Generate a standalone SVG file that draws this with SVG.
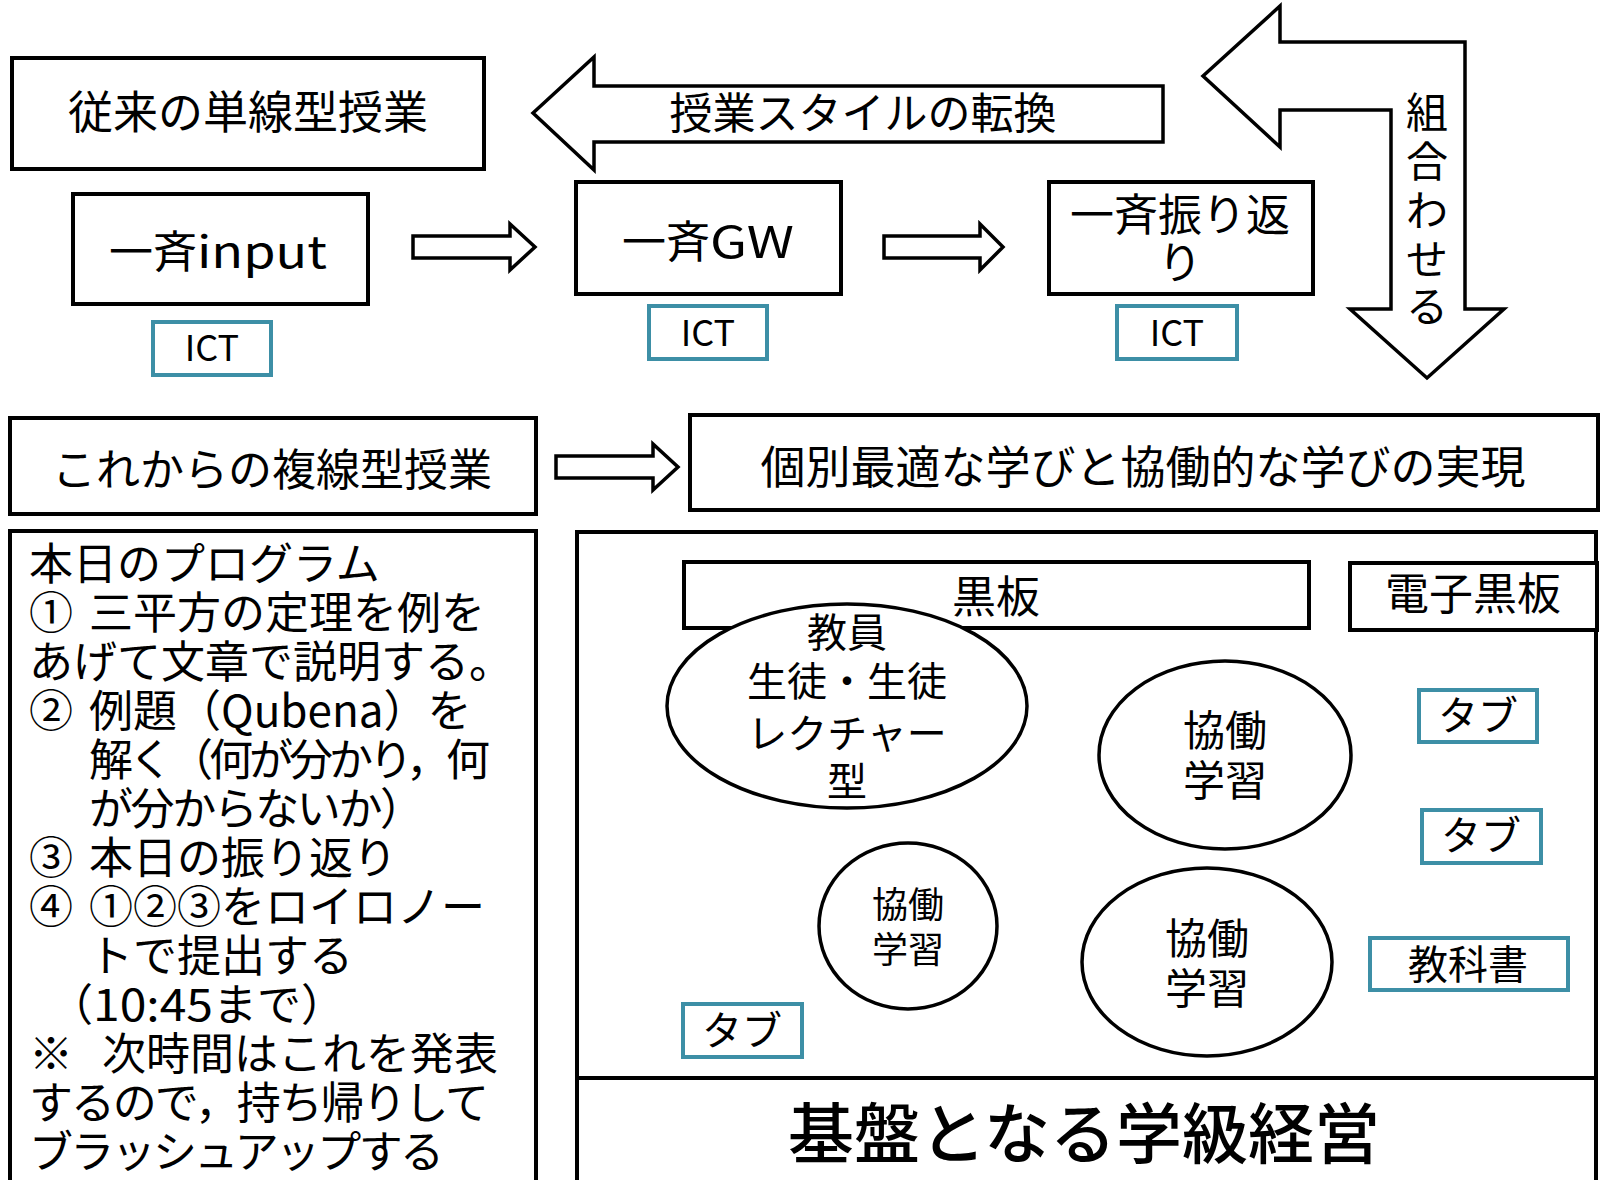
<svg xmlns="http://www.w3.org/2000/svg" width="1600" height="1180" viewBox="0 0 1600 1180">
<style>
text{font-family:"Noto Sans CJK JP","Noto Sans",sans-serif;fill:#000;}
.box{fill:#fff;stroke:#000;stroke-width:4;}
.ict{fill:#fff;stroke:#3D8FA6;stroke-width:4;}
.arr{fill:#fff;stroke:#000;stroke-width:3.5;stroke-linejoin:miter;}
.ell{fill:#fff;stroke:#000;stroke-width:3.5;}
.c{text-anchor:middle;}
.t45{font-size:45px;}
.t44{font-size:44px;}
.t43{font-size:43px;}
.t40{font-size:40px;}
.t36{font-size:36px;}
</style>
<rect x="0" y="0" width="1600" height="1180" fill="#fff"/>

<g id="connectors">
  <path class="arr" d="M533,113 L594,57 L594,86 L1163,86 L1163,142 L594,142 L594,170 Z"/>
  <path class="arr" d="M1203,76 L1280,6 L1280,42 L1465,42 L1465,309 L1504,309 L1427,378 L1350,309 L1391,309 L1391,110 L1280,110 L1280,147 Z"/>
  <path class="arr" d="M413,236 L510,236 L510,224 L535,247 L510,270 L510,258 L413,258 Z"/>
  <path class="arr" d="M884,236 L980,236 L980,224 L1003,247 L980,270 L980,258 L884,258 Z"/>
  <path class="arr" d="M556,456 L653,456 L653,444 L678,467 L653,490 L653,478 L556,478 Z"/>
  <text class="c t43" x="863" y="129">授業スタイルの転換</text>
  <text class="c" font-size="42" x="1427"><tspan x="1427" y="128">組</tspan><tspan x="1427" y="177">合</tspan><tspan x="1427" y="226">わ</tspan><tspan x="1427" y="275">せ</tspan><tspan x="1427" y="322">る</tspan></text>
</g>

<g id="traditional">
  <rect class="box" x="12" y="58" width="472" height="111"/>
  <text class="c t45" x="248" y="129">従来の単線型授業</text>
</g>

<g id="input">
  <rect class="box" x="73" y="194" width="295" height="110"/>
  <text class="t44" x="109" y="268">一斉<tspan textLength="130" lengthAdjust="spacingAndGlyphs">input</tspan></text>
</g>
<g id="ict1">
  <rect class="ict" x="153" y="322" width="118" height="53"/>
  <text class="c t36" x="212" y="361">ICT</text>
</g>

<g id="gw">
  <rect class="box" x="576" y="182" width="265" height="112"/>
  <text class="t44" x="622" y="258">一斉<tspan textLength="84" lengthAdjust="spacingAndGlyphs">GW</tspan></text>
</g>
<g id="ict2">
  <rect class="ict" x="649" y="306" width="118" height="53"/>
  <text class="c t36" x="708" y="346">ICT</text>
</g>

<g id="reflect">
  <rect class="box" x="1049" y="182" width="264" height="112"/>
  <text class="c t44" x="1180" y="231">一斉振り返</text>
  <text class="c t44" x="1180" y="279">り</text>
</g>
<g id="ict3">
  <rect class="ict" x="1117" y="306" width="120" height="53"/>
  <text class="c t36" x="1177" y="346">ICT</text>
</g>

<g id="multi">
  <rect class="box" x="10" y="418" width="526" height="96"/>
  <text class="c t44" x="272" y="486">これからの複線型授業</text>
</g>

<g id="goal">
  <rect class="box" x="690" y="415" width="908" height="95"/>
  <text class="c t45" x="1143" y="484">個別最適な学びと協働的な学びの実現</text>
</g>

<g id="program">
  <rect class="box" x="10" y="531" width="526" height="700"/>
  <g class="t44">
    <text x="29" y="580">本日のプログラム</text>
    <text y="629"><tspan x="29">①</tspan><tspan x="89">三平方の定理を例を</tspan></text>
    <text x="29" y="678">あげて文章で説明する。</text>
    <text y="727"><tspan x="29">②</tspan><tspan x="89">例題（Qubena）を</tspan></text>
    <text x="89" y="776" textLength="401" lengthAdjust="spacing">解く（何が分かり，何</text>
    <text x="89" y="825" textLength="335" lengthAdjust="spacing">が分からないか）</text>
    <text y="874"><tspan x="29">③</tspan><tspan x="89">本日の振り返り</tspan></text>
    <text y="923"><tspan x="29">④</tspan><tspan x="89">①②③をロイロノー</tspan></text>
    <text x="89" y="972">トで提出する</text>
    <text x="49" y="1021">（<tspan textLength="120" lengthAdjust="spacingAndGlyphs">10:45</tspan>まで）</text>
    <text y="1070"><tspan x="29">※</tspan><tspan x="102">次時間はこれを発表</tspan></text>
    <text x="29" y="1119" textLength="460" lengthAdjust="spacing">するので，持ち帰りして</text>
    <text x="29" y="1168" textLength="415" lengthAdjust="spacing">ブラッシュアップする</text>
  </g>
</g>

<g id="classroom">
  <rect class="box" x="577" y="532" width="1019" height="546"/>
</g>

<g id="blackboard">
  <rect class="box" x="684" y="562" width="625" height="66"/>
  <text class="c t44" x="996" y="613">黒板</text>
</g>

<g id="eboard">
  <rect class="box" x="1350" y="563" width="247" height="67"/>
  <text class="c t44" x="1473" y="610">電子黒板</text>
</g>

<g id="lecture">
  <ellipse class="ell" cx="847" cy="706" rx="180" ry="102"/>
  <text class="c t40" x="847" y="647">教員</text>
  <text class="c t40" x="847" y="696">生徒・生徒</text>
  <text class="c t40" x="847" y="748">レクチャー</text>
  <text class="c t40" x="847" y="796">型</text>
</g>

<g id="collab1">
  <ellipse class="ell" cx="1225" cy="755" rx="126" ry="94"/>
  <text class="c" font-size="42" x="1225" y="746">協働</text>
  <text class="c" font-size="42" x="1225" y="796">学習</text>
</g>

<g id="collab2">
  <ellipse class="ell" cx="908" cy="926" rx="89" ry="83"/>
  <text class="c t36" x="908" y="918">協働</text>
  <text class="c t36" x="908" y="963">学習</text>
</g>

<g id="collab3">
  <ellipse class="ell" cx="1207" cy="962" rx="125" ry="94"/>
  <text class="c" font-size="42" x="1207" y="954">協働</text>
  <text class="c" font-size="42" x="1207" y="1004">学習</text>
</g>

<g id="tab1">
  <rect class="ict" x="1419" y="690" width="118" height="52"/>
  <text class="c t40" x="1478" y="730">タブ</text>
</g>
<g id="tab2">
  <rect class="ict" x="1422" y="810" width="119" height="53"/>
  <text class="c t40" x="1481" y="850">タブ</text>
</g>
<g id="tab3">
  <rect class="ict" x="683" y="1004" width="119" height="53"/>
  <text class="c t40" x="742" y="1045">タブ</text>
</g>
<g id="textbook">
  <rect class="ict" x="1370" y="938" width="198" height="52"/>
  <text class="c t40" x="1468" y="979">教科書</text>
</g>

<g id="foundation">
  <rect class="box" x="577" y="1078" width="1019" height="160"/>
  <text class="c" font-size="66" font-weight="500" x="1084" y="1158">基盤となる学級経営</text>
</g>
</svg>
